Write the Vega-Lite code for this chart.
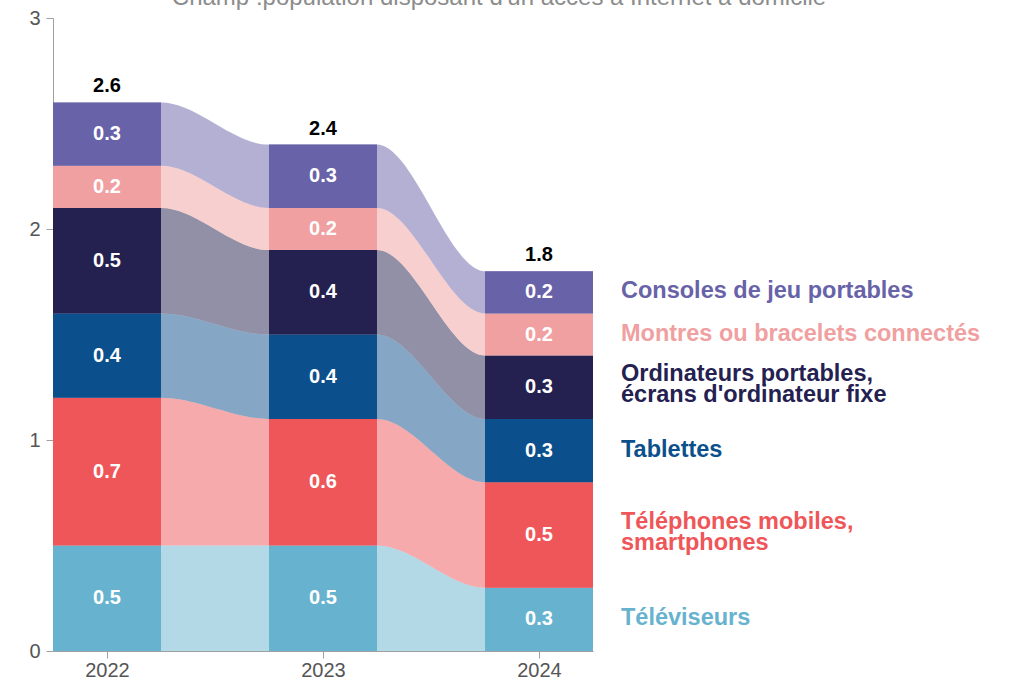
{
  "$schema": "https://vega.github.io/schema/vega-lite/v6.json",
  "width": 540,
  "height": 633,
  "autosize": {"type": "none"},
  "padding": {"left": 53, "top": 18, "right": 420, "bottom": 29},
  "background": "white",
  "config": {"view": {"stroke": null}, "font": "Liberation Sans"},
  "title": {
    "text": "Champ :population disposant d'un accès à Internet à domicile",
    "fontSize": 24,
    "fontWeight": "normal",
    "color": "#8c8c8c",
    "anchor": "middle",
    "frame": "group",
    "dx": 176,
    "offset": -21,
    "baseline": "alphabetic"
  },
  "data": {
    "values": [
      {"year": 2022, "device": "Téléviseurs", "value": 0.5},
      {"year": 2022, "device": "Téléphones mobiles,\nsmartphones", "value": 0.7},
      {"year": 2022, "device": "Tablettes", "value": 0.4},
      {"year": 2022, "device": "Ordinateurs portables,\nécrans d'ordinateur fixe", "value": 0.5},
      {"year": 2022, "device": "Montres ou bracelets connectés", "value": 0.2},
      {"year": 2022, "device": "Consoles de jeu portables", "value": 0.3},
      {"year": 2023, "device": "Téléviseurs", "value": 0.5},
      {"year": 2023, "device": "Téléphones mobiles,\nsmartphones", "value": 0.6},
      {"year": 2023, "device": "Tablettes", "value": 0.4},
      {"year": 2023, "device": "Ordinateurs portables,\nécrans d'ordinateur fixe", "value": 0.4},
      {"year": 2023, "device": "Montres ou bracelets connectés", "value": 0.2},
      {"year": 2023, "device": "Consoles de jeu portables", "value": 0.3},
      {"year": 2024, "device": "Téléviseurs", "value": 0.3},
      {"year": 2024, "device": "Téléphones mobiles,\nsmartphones", "value": 0.5},
      {"year": 2024, "device": "Tablettes", "value": 0.3},
      {"year": 2024, "device": "Ordinateurs portables,\nécrans d'ordinateur fixe", "value": 0.3},
      {"year": 2024, "device": "Montres ou bracelets connectés", "value": 0.2},
      {"year": 2024, "device": "Consoles de jeu portables", "value": 0.2}
    ]
  },
  "transform": [
    {"calculate": "indexof(['Téléviseurs', 'Téléphones mobiles,\\nsmartphones', 'Tablettes', 'Ordinateurs portables,\\nécrans d\\'ordinateur fixe', 'Montres ou bracelets connectés', 'Consoles de jeu portables'], datum.device)", "as": "ord"},
    {"stack": "value", "groupby": ["year"], "sort": [{"field": "ord", "order": "ascending"}], "as": ["v0", "v1"]},
    {"calculate": "(datum.v0 + datum.v1) / 2", "as": "vmid"},
    {"calculate": "datum.year - 0.25", "as": "xl"},
    {"calculate": "datum.year + 0.25", "as": "xr"}
  ],
  "encoding": {
    "color": {
      "field": "device",
      "type": "nominal",
      "legend": null,
      "scale": {
        "domain": [
          "Téléviseurs",
          "Téléphones mobiles,\nsmartphones",
          "Tablettes",
          "Ordinateurs portables,\nécrans d'ordinateur fixe",
          "Montres ou bracelets connectés",
          "Consoles de jeu portables"
        ],
        "range": ["#67b3cf", "#ef5659", "#0b4f8c", "#242150", "#f0a0a0", "#6862a8"]
      }
    }
  },
  "layer": [
    {
      "transform": [{"fold": ["xl", "xr"], "as": ["edge", "xpos"]}],
      "mark": {"type": "area", "interpolate": "monotone", "opacity": 0.5},
      "encoding": {
        "x": {
          "field": "xpos",
          "type": "quantitative",
          "scale": {"domain": [2021.75, 2024.25], "nice": false, "zero": false},
          "axis": {
            "values": [2022, 2023, 2024],
            "format": "d",
            "title": null,
            "grid": false,
            "labelFontSize": 20,
            "labelColor": "#555555",
            "tickColor": "#a0a0a0",
            "domainColor": "#a0a0a0",
            "tickSize": 7,
            "labelPadding": 2
          }
        },
        "y": {
          "field": "v1",
          "type": "quantitative",
          "stack": null,
          "scale": {"domain": [0, 3], "nice": false},
          "axis": {
            "values": [0, 1, 2, 3],
            "format": "d",
            "title": null,
            "grid": false,
            "labelFontSize": 20,
            "labelColor": "#555555",
            "tickColor": "#a0a0a0",
            "domainColor": "#a0a0a0",
            "tickSize": 7,
            "labelPadding": 6
          }
        },
        "y2": {"field": "v0"}
      }
    },
    {
      "mark": {"type": "bar"},
      "encoding": {
        "x": {"field": "xl", "type": "quantitative"},
        "x2": {"field": "xr"},
        "y": {"field": "v1", "type": "quantitative", "stack": null},
        "y2": {"field": "v0"}
      }
    },
    {
      "mark": {"type": "text", "fontWeight": "bold", "fontSize": 20, "baseline": "middle"},
      "encoding": {
        "x": {"field": "year", "type": "quantitative"},
        "y": {"field": "vmid", "type": "quantitative"},
        "text": {"field": "value", "type": "quantitative", "format": ".1f"},
        "color": {"value": "white"}
      }
    },
    {
      "transform": [{"aggregate": [{"op": "sum", "field": "value", "as": "total"}], "groupby": ["year"]}],
      "mark": {"type": "text", "fontWeight": "bold", "fontSize": 20, "baseline": "alphabetic", "dy": -10},
      "encoding": {
        "x": {"field": "year", "type": "quantitative"},
        "y": {"field": "total", "type": "quantitative"},
        "text": {"field": "total", "type": "quantitative", "format": ".1f"},
        "color": {"value": "black"}
      }
    },
    {
      "transform": [{"filter": "datum.year == 2024 && indexof(datum.device, '\\n') < 0"}],
      "mark": {"type": "text", "align": "left", "baseline": "middle", "fontWeight": "bold", "fontSize": 23.5, "dx": 28, "dy": -1},
      "encoding": {
        "x": {"field": "xr", "type": "quantitative"},
        "y": {"field": "vmid", "type": "quantitative"},
        "text": {"field": "device", "type": "nominal"}
      }
    },
    {
      "transform": [{"filter": "datum.year == 2024 && indexof(datum.device, '\\n') >= 0"}],
      "mark": {"type": "text", "align": "left", "baseline": "middle", "fontWeight": "bold", "fontSize": 23.5, "lineBreak": "\n", "lineHeight": 21, "dx": 28, "dy": -13},
      "encoding": {
        "x": {"field": "xr", "type": "quantitative"},
        "y": {"field": "vmid", "type": "quantitative"},
        "text": {"field": "device", "type": "nominal"}
      }
    }
  ]
}
